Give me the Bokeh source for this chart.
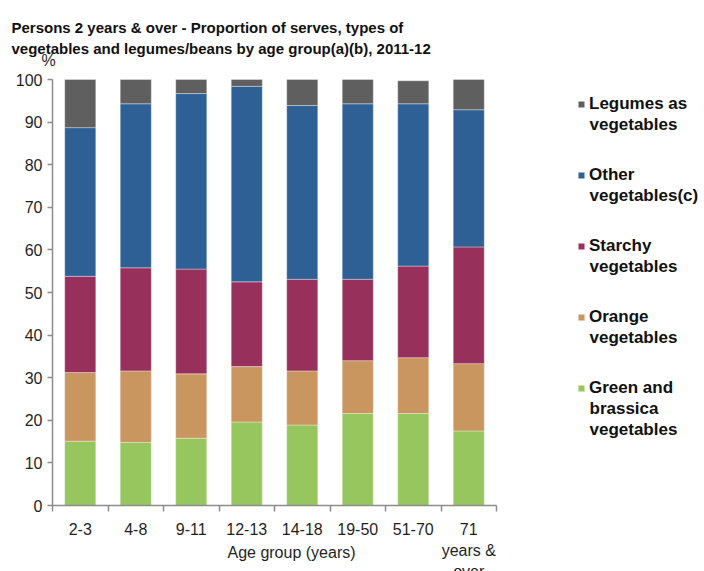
from bokeh.plotting import figure
from bokeh.models import (ColumnDataSource, Range1d, FixedTicker, Label, Legend, LegendItem)
from bokeh.embed import file_html
from bokeh.resources import INLINE

# ---- data ----
categories = ["2-3", "4-8", "9-11", "12-13", "14-18", "19-50", "51-70", "71\nyears &\nover"]
green = [15.1, 14.8, 15.8, 19.6, 18.9, 21.6, 21.6, 17.5]
orange = [16.1, 16.8, 15.1, 13.0, 12.7, 12.4, 13.1, 15.8]
starchy = [22.6, 24.2, 24.6, 19.9, 21.5, 19.1, 21.5, 27.4]
other = [34.9, 38.5, 41.2, 45.9, 40.8, 41.2, 38.1, 32.2]
legumes = [11.3, 5.7, 3.3, 1.6, 6.1, 5.7, 5.4, 7.1]

series_names = ["green", "orange", "starchy", "other", "legumes"]
series_labels = ["Green and\nbrassica\nvegetables", "Orange\nvegetables",
                 "Starchy\nvegetables", "Other\nvegetables(c)", "Legumes as\nvegetables"]
colors = ["#98C65E", "#C8965E", "#98305C", "#2E6096", "#5F5F5F"]
y_ticks = list(range(0, 101, 10))

title_lines = ["Persons 2 years & over - Proportion of serves, types of",
               "vegetables and  legumes/beans by age group(a)(b), 2011-12"]
x_title = "Age group (years)"
y_unit = "%"

# ---- layout constants (pixels) ----
W, H = 704, 571
PLOT_L, PLOT_R, PLOT_T, PLOT_B = 52, 496, 79, 505   # chart area inside the canvas

n = len(categories)
y_max = y_ticks[-1]
px_x = (PLOT_R - PLOT_L) / n
px_y = (PLOT_B - PLOT_T) / y_max
x_range = Range1d(-PLOT_L / px_x, (W - PLOT_L) / px_x)
y_range = Range1d(-(H - PLOT_B) / px_y, y_max + PLOT_T / px_y)

centers = [i + 0.5 for i in range(n)]
source = ColumnDataSource(dict(x=centers, green=green, orange=orange, starchy=starchy,
                               other=other, legumes=legumes))

FONT = "Liberation Sans"
TEXT = "#1F1F1F"
AXIS = "#8C8C8C"

p = figure(width=W, height=H, output_backend="svg", toolbar_location=None,
           x_range=x_range, y_range=y_range,
           min_border_left=0, min_border_right=0, min_border_top=0, min_border_bottom=0)
p.outline_line_color = None
p.xgrid.visible = False
p.ygrid.visible = False


def sx(page_x):
    return page_x


def sy(page_y):
    return H - page_y


renderers = p.vbar_stack(series_names, x="x", width=0.56, color=colors, source=source,
                         line_color="white", line_alpha=0.35, line_width=1)

# x axis at y=0: ticks at category boundaries, labels under the centres
xa = p.xaxis[0]
xa.fixed_location = 0
xa.bounds = (0, n)
xa.ticker = FixedTicker(ticks=centers, minor_ticks=list(range(n + 1)))
xa.major_label_overrides = {c: lab for c, lab in zip(centers, categories)}
xa.major_tick_out = 0
xa.major_tick_in = 0
xa.minor_tick_out = 6
xa.minor_tick_in = 0
xa.minor_tick_line_color = AXIS
xa.minor_tick_line_width = 1.5
xa.axis_line_color = AXIS
xa.axis_line_width = 1.5
xa.major_label_standoff = 9
xa.major_label_text_font = FONT
xa.major_label_text_font_size = "16px"
xa.major_label_text_color = TEXT
xa.major_label_text_line_height = 1.25

ya = p.yaxis[0]
ya.fixed_location = 0
ya.bounds = (0, y_max)
ya.ticker = FixedTicker(ticks=y_ticks, minor_ticks=[])
ya.major_tick_out = 5
ya.major_tick_in = 0
ya.major_tick_line_color = AXIS
ya.major_tick_line_width = 1.5
ya.axis_line_color = AXIS
ya.axis_line_width = 1.5
ya.major_label_standoff = 5
ya.major_label_text_font = FONT
ya.major_label_text_font_size = "16px"
ya.major_label_text_color = TEXT

# titles, unit, axis title
for i, line in enumerate(title_lines):
    p.add_layout(Label(x=sx(11), y=sy(27 + 21 * i), x_units="screen", y_units="screen",
                       text=line, text_font=FONT, text_font_style="bold",
                       text_font_size="15px", text_color="#111111",
                       text_baseline="alphabetic"))
p.add_layout(Label(x=sx(48), y=sy(60), x_units="screen", y_units="screen", text=y_unit,
                   text_font=FONT, text_font_size="16px", text_color=TEXT,
                   text_align="center", text_baseline="middle"))
p.add_layout(Label(x=sx(291), y=sy(552), x_units="screen", y_units="screen", text=x_title,
                   text_font=FONT, text_font_size="16px", text_color=TEXT,
                   text_align="center", text_baseline="middle"))

# ---- legend: first line of each entry in a Legend, further lines as Labels ----
order = list(reversed(range(len(series_names))))
item_h, spacing = 20, 51
items = [LegendItem(label=series_labels[s].split("\n")[0], renderers=[renderers[s]])
         for s in order]
legend = Legend(items=items, orientation="vertical",
                label_text_font=FONT, label_text_font_style="bold",
                label_text_font_size="17px", label_text_color="#111111",
                glyph_width=8, glyph_height=8, label_height=item_h, label_standoff=4,
                spacing=spacing, padding=0, margin=0, border_line_color=None,
                background_fill_alpha=0)
n_items = len(items)
legend_h = n_items * item_h + (n_items - 1) * spacing
first_c = sy(104)
legend.location = (sx(577), first_c + item_h / 2 - legend_h)
p.add_layout(legend, "center")

for k, s in enumerate(order):
    cy = first_c - k * (item_h + spacing)
    for j, part in enumerate(series_labels[s].split("\n")[1:], start=1):
        p.add_layout(Label(x=sx(589), y=cy + 1 - 21 * j, x_units="screen", y_units="screen",
                           text=part, text_font=FONT, text_font_style="bold",
                           text_font_size="17px", text_color="#111111",
                           text_baseline="alphabetic"))

open("out.html", "w").write(file_html(p, INLINE))
